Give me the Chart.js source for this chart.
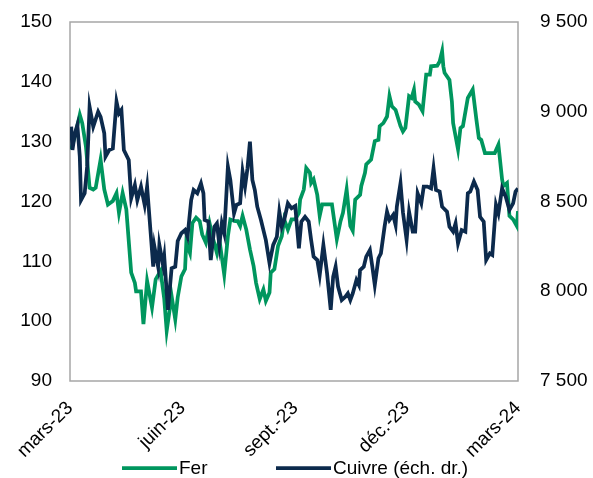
<!DOCTYPE html>
<html lang="fr">
<head>
<meta charset="utf-8">
<title>Fer et cuivre</title>
<script src="https://cdn.jsdelivr.net/npm/chart.js@4/dist/chart.umd.min.js"></script>
<style>
  html, body { margin: 0; padding: 0; background: #ffffff; }
  #wrap { width: 593px; height: 478px; position: relative; }
</style>
</head>
<body>
<div id="wrap"><canvas id="chart" width="593" height="478"></canvas></div>
<script>
// Days counted from 1 March 2023
const tickDays = [0, 92, 184, 275, 366];
const tickLabels = ['mars-23', 'juin-23', 'sept.-23', 'déc.-23', 'mars-24'];

// Iron ore (left axis)
const ferDays = [1, 4, 8, 10, 13, 16, 19, 21, 25, 28, 31, 35, 38, 40, 43, 46, 50, 53, 54, 58,
  60, 63, 67, 70, 74, 77, 79, 83, 86, 88, 91, 94, 95, 98, 100, 103, 106, 108, 111, 114,
  117, 120, 122, 126, 129, 131, 135, 137, 139, 141, 144, 147, 150, 152, 155, 158, 160, 163, 164, 167,
  170, 173, 175, 178, 181, 184, 187, 188, 191, 193, 196, 197, 199, 202, 204, 206, 214, 218, 221, 223,
  226, 229, 231, 233, 237, 238, 241, 242, 246, 249, 252, 253, 256, 259, 261, 263, 266, 270, 272, 274,
  277, 279, 281, 282, 285, 288, 291, 294, 295, 300, 302, 304, 305, 306, 310, 312, 313, 315, 317, 319,
  321, 325, 329, 332, 334, 336, 339, 347, 350, 353, 354, 357, 359, 362, 365, 366];
const ferValues = [128.7, 130.9, 134.5, 133.1, 129.2, 122.3, 122.0, 122.3, 127.0, 122.0, 119.5, 120.1, 121.4, 118.1, 121.4, 118.7, 108.1, 106.4, 105.0, 105.0,
  99.5, 106.7, 102.3, 107.0, 108.4, 103.7, 98.4, 104.2, 100.3, 104.0, 107.5, 108.7, 113.1, 111.4, 116.4, 117.3, 116.7, 114.5, 113.1, 116.4,
  113.7, 111.4, 113.7, 107.8, 114.2, 117.0, 116.7, 116.7, 115.9, 117.6, 115.3, 112.0, 109.2, 106.4, 103.7, 105.3, 103.4, 104.8, 108.1, 108.7,
  112.6, 114.2, 117.0, 115.3, 117.0, 117.0, 118.1, 120.3, 122.0, 125.6, 124.8, 123.1, 123.7, 121.1, 117.6, 119.5, 119.5, 113.7, 116.7, 118.1,
  122.0, 115.9, 115.1, 120.3, 121.1, 122.6, 124.8, 126.2, 127.0, 130.1, 130.3, 132.6, 133.1, 134.2, 137.6, 135.9, 135.3, 132.6, 131.7, 132.3,
  137.6, 137.3, 138.7, 136.7, 136.2, 135.1, 141.2, 141.2, 142.6, 142.7, 143.4, 145.1, 142.6, 141.5, 140.3, 136.7, 133.1, 130.9, 128.7, 132.3,
  132.6, 137.3, 138.7, 133.7, 130.6, 130.3, 128.1, 128.1, 129.5, 123.7, 122.6, 123.1, 117.6, 117.0, 115.9, 118.4];

// Copper (right axis)
const cuivreDays = [1, 2, 4, 6, 8, 9, 12, 14, 16, 19, 23, 25, 28, 29, 32, 35, 38, 40, 42, 44,
  48, 50, 53, 55, 58, 61, 63, 68, 69, 72, 73, 76, 77, 80, 83, 86, 88, 91, 94, 96,
  99, 101, 104, 107, 109, 110, 113, 115, 118, 120, 122, 124, 126, 129, 131, 134, 136, 139, 141, 143,
  145, 147, 149, 151, 153, 156, 160, 163, 166, 169, 171, 173, 175, 178, 181, 184, 187, 189, 192, 195,
  197, 199, 202, 204, 207, 210, 213, 215, 217, 219, 222, 225, 227, 229, 231, 234, 236, 237, 240, 242,
  245, 247, 249, 252, 254, 257, 259, 261, 264, 266, 267, 270, 272, 275, 277, 280, 282, 284, 287, 289,
  292, 295, 297, 299, 302, 304, 308, 310, 313, 315, 317, 320, 323, 325, 327, 330, 333, 335, 338, 340,
  343, 345, 348, 350, 353, 356, 359, 362, 364, 366];
const cuivreValues = [8917, 8787, 8880, 8926, 8750, 8508, 8546, 8694, 9028, 8917, 9000, 8972, 8880, 8750, 8787, 8796, 9056, 8991, 9010, 8787,
  8731, 8518, 8592, 8508, 8583, 8481, 8583, 8137, 8248, 8137, 8258, 8146, 8193, 7896, 8128, 8137, 8280, 8323, 8341, 8304,
  8508, 8564, 8546, 8601, 8546, 8397, 8388, 8174, 8360, 8378, 8258, 8378, 8323, 8694, 8620, 8434, 8481, 8490, 8666, 8583,
  8685, 8833, 8620, 8564, 8471, 8397, 8285, 8156, 8258, 8304, 8443, 8360, 8397, 8490, 8462, 8475, 8239, 8388, 8415, 8388,
  8286, 8193, 8174, 8091, 8258, 8100, 7896, 8081, 8137, 8026, 7951, 7970, 7988, 7951, 7988, 8063, 8035, 8118, 8137, 8193,
  8230, 8137, 8035, 8184, 8211, 8360, 8443, 8397, 8425, 8369, 8471, 8601, 8440, 8286, 8443, 8332, 8332, 8546, 8490, 8583,
  8583, 8573, 8685, 8564, 8555, 8471, 8443, 8360, 8332, 8378, 8267, 8341, 8332, 8546, 8555, 8611, 8564, 8415, 8388, 8174,
  8211, 8202, 8481, 8434, 8573, 8527, 8453, 8490, 8555, 8573];

const GREEN = '#00965e';
const NAVY = '#0c2a4c';
const AXIS = '#a6a6a6';
const FONT = "'Liberation Sans', Arial, sans-serif";
const FONT_SIZE = 19;
const PLOT_TOP = 22;

const toPoints = (xs, ys) => xs.map((x, i) => ({ x: x, y: ys[i] }));
const frNumber = v => String(v).replace(/\B(?=(\d{3})+(?!\d))/g, ' ');

// Pin the top edge of the plot area and re-derive the vertical scales from it
const plotTop = {
  id: 'plotTop',
  afterLayout(chart) {
    chart.chartArea.top = PLOT_TOP;
    chart.chartArea.height = chart.chartArea.bottom - PLOT_TOP;
    ['y', 'y1'].forEach(id => {
      const s = chart.scales[id];
      s.top = PLOT_TOP;
      s.height = s.bottom - PLOT_TOP;
      s.configure();
    });
  }
};

// Frame around the plot area
const frame = {
  id: 'frame',
  beforeDatasetsDraw(chart) {
    const { ctx, chartArea: a } = chart;
    ctx.save();
    ctx.strokeStyle = AXIS;
    ctx.lineWidth = 1.5;
    ctx.strokeRect(a.left, a.top, a.right - a.left, a.bottom - a.top);
    ctx.restore();
  }
};

// Legend row under the axis labels
const legendRow = {
  id: 'legendRow',
  afterDraw(chart) {
    const { ctx } = chart;
    const items = [
      { ds: chart.data.datasets[0], x0: 122 },
      { ds: chart.data.datasets[1], x0: 276 }
    ];
    const y = 468;
    ctx.save();
    ctx.font = FONT_SIZE + 'px ' + FONT;
    ctx.textBaseline = 'middle';
    ctx.fillStyle = '#000';
    items.forEach(it => {
      ctx.strokeStyle = it.ds.borderColor;
      ctx.lineWidth = 3.75;
      ctx.beginPath();
      ctx.moveTo(it.x0, y);
      ctx.lineTo(it.x0 + 55, y);
      ctx.stroke();
      ctx.fillText(it.ds.label, it.x0 + 57, y + 1);
    });
    ctx.restore();
  }
};

new Chart(document.getElementById('chart'), {
  type: 'line',
  data: {
    datasets: [
      {
        label: 'Fer',
        data: toPoints(ferDays, ferValues),
        borderColor: GREEN,
        borderWidth: 3.75,
        pointRadius: 0,
        yAxisID: 'y',
        order: 1
      },
      {
        label: 'Cuivre (éch. dr.)',
        data: toPoints(cuivreDays, cuivreValues),
        borderColor: NAVY,
        borderWidth: 3.75,
        pointRadius: 0,
        yAxisID: 'y1',
        order: 0
      }
    ]
  },
  options: {
    responsive: false,
    animation: false,
    layout: { padding: { top: 0, left: 0, right: 0, bottom: 0 } },
    plugins: { legend: { display: false }, tooltip: { enabled: false } },
    scales: {
      x: {
        type: 'linear',
        min: 0,
        max: 366,
        grid: { display: false, drawTicks: false },
        border: { display: false },
        afterBuildTicks: s => { s.ticks = tickDays.map(v => ({ value: v })); },
        afterFit: s => { s.height = 97; },
        ticks: {
          autoSkip: false,
          minRotation: 45,
          maxRotation: 45,
          padding: 16,
          color: '#000',
          font: { family: FONT, size: FONT_SIZE },
          callback: v => tickLabels[tickDays.indexOf(v)]
        }
      },
      y: {
        position: 'left',
        min: 90,
        max: 150,
        grid: { display: false, drawTicks: false },
        border: { display: false },
        afterFit: s => { s.width = 70; },
        ticks: {
          stepSize: 10,
          padding: 18,
          color: '#000',
          font: { family: FONT, size: FONT_SIZE }
        }
      },
      y1: {
        position: 'right',
        min: 7500,
        max: 9500,
        grid: { display: false, drawTicks: false },
        border: { display: false },
        afterFit: s => { s.width = 75; },
        ticks: {
          stepSize: 500,
          padding: 22,
          color: '#000',
          font: { family: FONT, size: FONT_SIZE },
          callback: v => frNumber(v)
        }
      }
    }
  },
  plugins: [plotTop, frame, legendRow]
});
</script>
</body>
</html>
